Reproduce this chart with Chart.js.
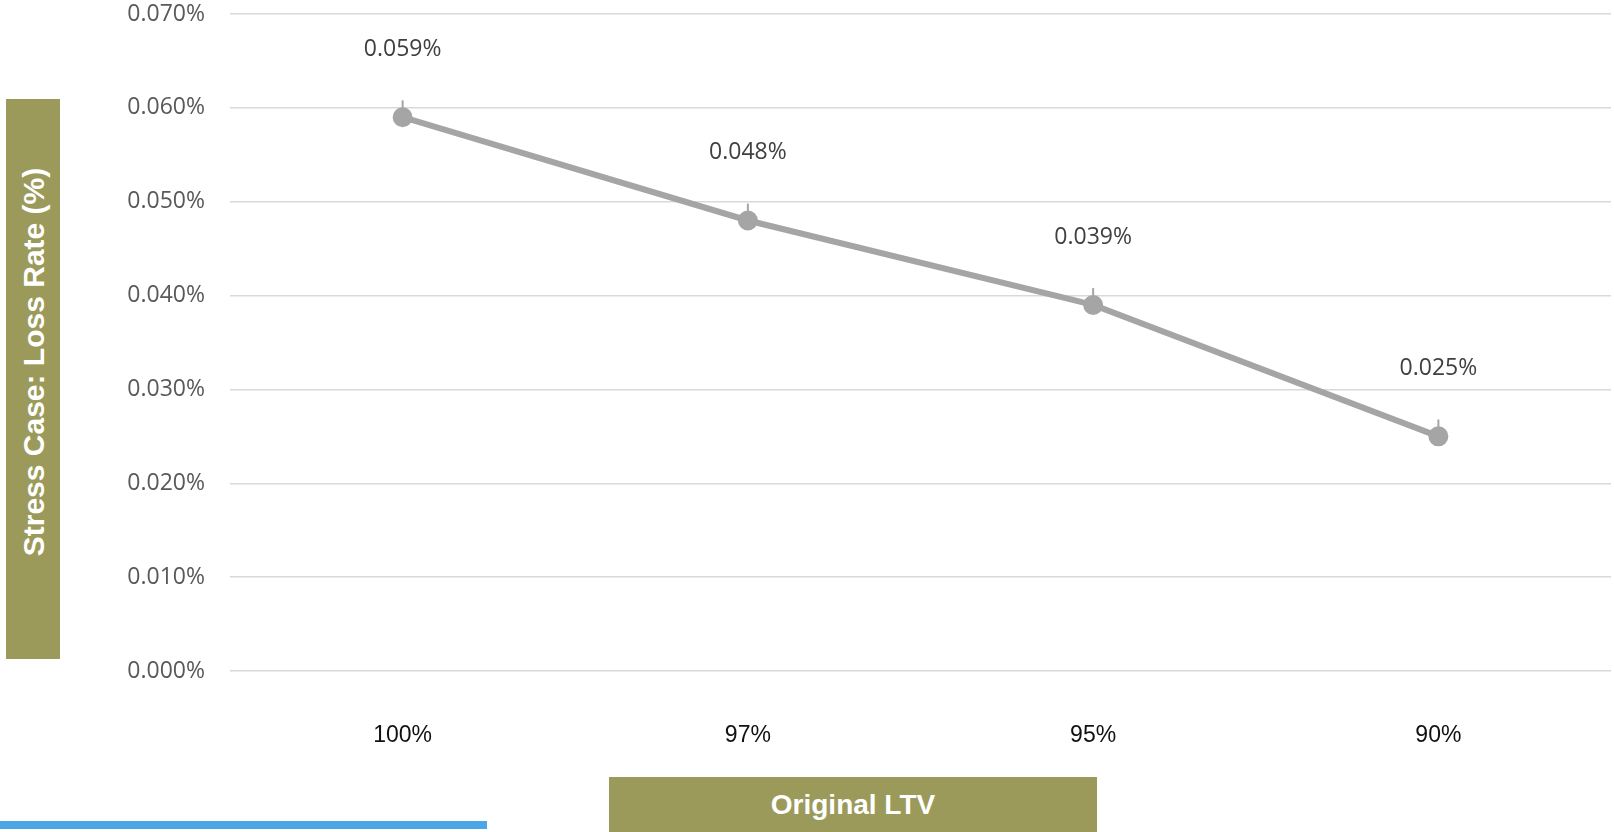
<!DOCTYPE html>
<html>
<head>
<meta charset="utf-8">
<script src="https://cdn.jsdelivr.net/npm/chart.js@4.4.1/dist/chart.umd.min.js"></script>
<style>
body { margin: 0; background: #fff; }
#wrap { position: relative; width: 1614px; height: 832px; overflow: hidden; }
#yTitle { position: absolute; left: 6px; top: 99px; width: 54px; height: 560px; background: #9b9a5a; }
#yTitle span { position: absolute; left: 28px; top: 263px; transform: translate(-50%, -50%) rotate(-90deg);
  white-space: nowrap; color: #fff; font: bold 30px "Liberation Sans", Arial, sans-serif; }
#xTitle { position: absolute; left: 609px; top: 777px; width: 488px; height: 55px; background: #9b9a5a;
  color: #fff; font: bold 28px "Liberation Sans", Arial, sans-serif; text-align: center; line-height: 55px; }
#blueBar { position: absolute; left: 0; top: 821px; width: 487px; height: 8px; background: #4aa6e6; }
</style>
</head>
<body>
<div id="wrap">
  <canvas id="myChart" width="1614" height="832"></canvas>
  <div id="yTitle"><span>Stress Case: Loss Rate (%)</span></div>
  <div id="xTitle">Original LTV</div>
  <div id="blueBar"></div>
</div>
<script>
var xValues = ["100%", "97%", "95%", "90%"];
var yValues = [0.059, 0.048, 0.039, 0.025];
var errPlus = [0.0018, 0.0018, 0.0018, 0.0018];
var lineColor = "#a5a5a5";

// data labels and the small error bar ticks above each point
var pointExtras = {
  id: "pointExtras",
  afterDatasetsDraw: function(chart) {
    var ctx = chart.ctx;
    var meta = chart.getDatasetMeta(0);
    var ys = chart.scales.y;
    ctx.save();
    meta.data.forEach(function(pt, i) {
      ctx.strokeStyle = lineColor;
      ctx.lineWidth = 2;
      ctx.beginPath();
      ctx.moveTo(pt.x, pt.y);
      ctx.lineTo(pt.x, ys.getPixelForValue(yValues[i] + errPlus[i]));
      ctx.stroke();
      ctx.fillStyle = "#404040";
      ctx.font = '23px "Open Sans"';
      ctx.textAlign = "center";
      ctx.textBaseline = "middle";
      ctx.fillText(yValues[i].toFixed(3) + "%", pt.x, pt.y - 68);
    });
    ctx.restore();
  }
};

new Chart("myChart", {
  type: "line",
  data: {
    labels: xValues,
    datasets: [{
      data: yValues,
      borderColor: lineColor,
      backgroundColor: lineColor,
      borderWidth: 6,
      pointRadius: 7,
      pointHoverRadius: 7,
      tension: 0
    }]
  },
  options: {
    responsive: false,
    animation: false,
    layout: { autoPadding: false, padding: { top: 14, right: 3, left: 0, bottom: 0 } },
    plugins: { legend: { display: false }, tooltip: { enabled: false } },
    scales: {
      x: {
        offset: true,
        grid: { display: false, drawTicks: false },
        border: { display: false },
        ticks: { color: "#111", padding: 51, font: { family: "Liberation Sans", size: 23 } },
        afterFit: function(s) { s.height = 161; s.paddingLeft = 0; s.paddingRight = 0; }
      },
      y: {
        min: 0,
        max: 0.07,
        ticks: {
          stepSize: 0.01,
          color: "#595959",
          padding: 25,
          font: { family: "Open Sans", size: 23 },
          callback: function(v) { return v.toFixed(3) + "%"; }
        },
        grid: { color: "#d9d9d9", lineWidth: 1.5, drawTicks: false },
        border: { display: false },
        afterFit: function(s) { s.width = 230; s.paddingTop = 0; s.paddingBottom = 0; }
      }
    }
  },
  plugins: [pointExtras]
});
</script>
</body>
</html>
